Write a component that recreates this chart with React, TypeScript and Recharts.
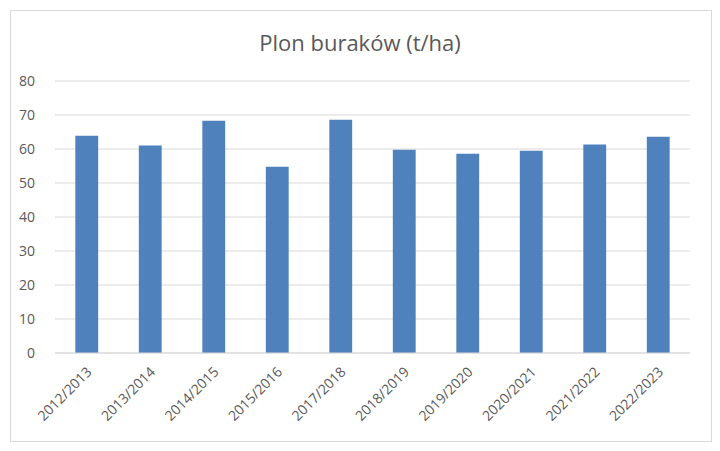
import { BarChart, Bar, XAxis, YAxis, CartesianGrid } from "recharts";

const SEASONS = [
  "2012/2013",
  "2013/2014",
  "2014/2015",
  "2015/2016",
  "2017/2018",
  "2018/2019",
  "2019/2020",
  "2020/2021",
  "2021/2022",
  "2022/2023",
];

const YIELDS = [63.9, 61.0, 68.3, 54.8, 68.6, 59.8, 58.6, 59.5, 61.3, 63.6];

const Y_TICKS = [0, 10, 20, 30, 40, 50, 60, 70, 80];

const FONT = "'Open Sans', 'Noto Sans', sans-serif";
const TEXT_COLOR = "#595959";
const GRID_COLOR = "#d9d9d9";
const BAR_COLOR = "#4f81bd";

const data = SEASONS.map((name, i) => ({ name, value: YIELDS[i] }));

function SeasonTick(props: any) {
  const { x, y, payload } = props;
  return (
    <g transform={`translate(${x + 3},${y + 9})`}>
      <text
        x={0}
        y={0}
        dy={4}
        textAnchor="end"
        transform="rotate(-45)"
        fill={TEXT_COLOR}
        fontSize={14}
        fontFamily={FONT}
      >
        {payload.value}
      </text>
    </g>
  );
}

export default function App() {
  return (
    <div style={{ position: "relative", width: 720, height: 451, margin: -8, background: "#fff" }}>
      <div
        style={{
          position: "absolute",
          left: 10,
          top: 10,
          width: 700,
          height: 430,
          border: `1px solid ${GRID_COLOR}`,
        }}
      />
      <div
        style={{
          position: "absolute",
          left: 0,
          top: 27,
          width: 720,
          textAlign: "center",
          fontFamily: FONT,
          fontSize: 22,
          color: TEXT_COLOR,
        }}
      >
        Plon buraków (t/ha)
      </div>
      <div style={{ position: "absolute", left: 0, top: 0 }}>
        <BarChart
          width={720}
          height={451}
          data={data}
          margin={{ top: 81, right: 30, bottom: 18, left: 10 }}
          barCategoryGap="68%"
        >
          <CartesianGrid vertical={false} stroke={GRID_COLOR} strokeWidth={1} />
          <XAxis
            dataKey="name"
            interval={0}
            height={80}
            axisLine={{ stroke: GRID_COLOR }}
            tickLine={false}
            tick={<SeasonTick />}
          />
          <YAxis
            width={45}
            domain={[0, 80]}
            ticks={Y_TICKS}
            axisLine={false}
            tickLine={false}
            tick={{ fill: TEXT_COLOR, fontSize: 14, fontFamily: FONT }}
            tickMargin={14}
          />
          <Bar dataKey="value" fill={BAR_COLOR} isAnimationActive={false} />
        </BarChart>
      </div>
    </div>
  );
}
